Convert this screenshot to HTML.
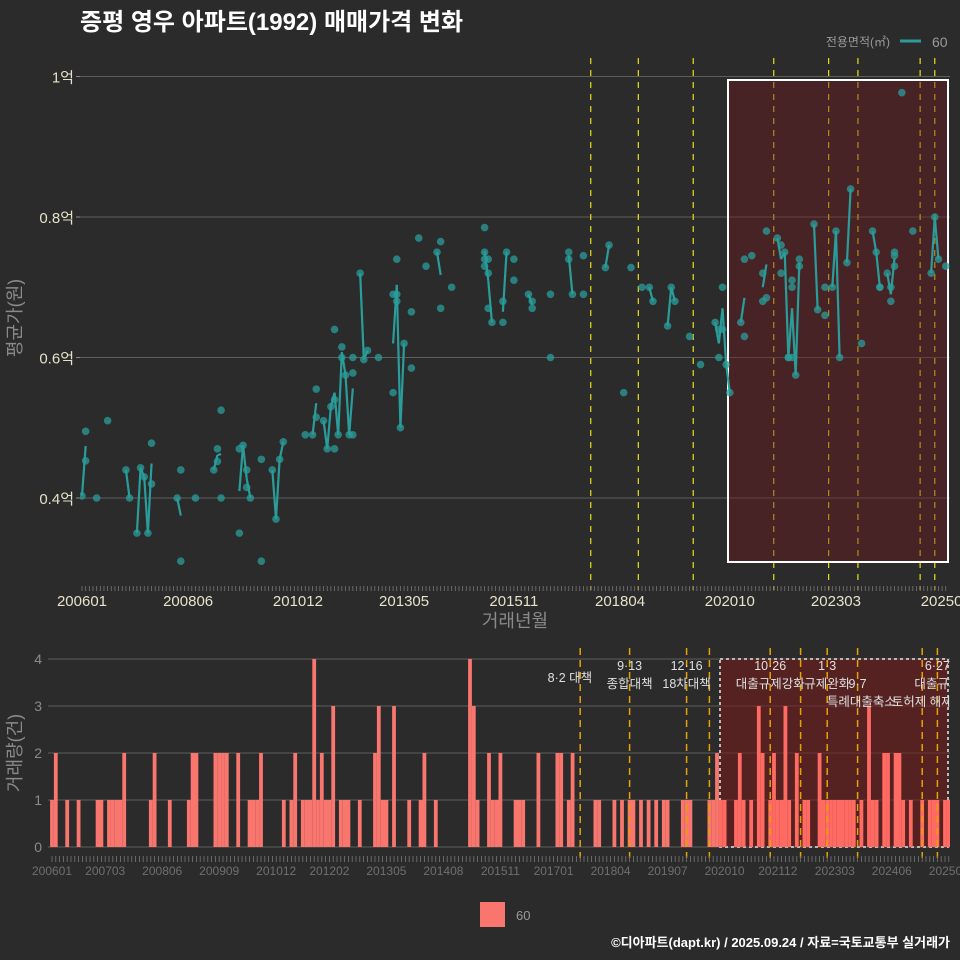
<!DOCTYPE html>
<html><head><meta charset="utf-8">
<style>
html,body{margin:0;padding:0;background:#2b2b2c;}
svg{display:block;font-family:"Liberation Sans","Noto Sans CJK KR",sans-serif;}
</style></head>
<body>
<svg id="chart" width="960" height="960" viewBox="0 0 960 960" xmlns="http://www.w3.org/2000/svg">
<defs>
<clipPath id="cpT"><rect x="80" y="55" width="870" height="535"/></clipPath>
<clipPath id="cpB"><rect x="48" y="640" width="902" height="215"/></clipPath>
</defs>
<rect width="960" height="960" fill="#2b2b2c"/>
<text x="80" y="30" fill="#ffffff" font-size="24" font-weight="bold">증평 영우 아파트(1992) 매매가격 변화</text>
<text x="890" y="46" fill="#9a9a9a" font-size="12" text-anchor="end">전용면적(㎡)</text>
<line x1="900" y1="41" x2="921" y2="41" stroke="#2a9d9a" stroke-width="3"/>
<text x="932" y="47" fill="#9a9a9a" font-size="14">60</text>
<g id="topPanel"></g>
<g id="botPanel"></g>
<rect x="480" y="902" width="25" height="25" fill="#f8766d"/>
<text x="516" y="920" fill="#9a9a9a" font-size="13">60</text>
<text x="950" y="947" fill="#ffffff" font-size="13" font-weight="bold" text-anchor="end">©디아파트(dapt.kr) / 2025.09.24 / 자료=국토교통부 실거래가</text>
</svg>
<script>
// month index: 0 = 2006-01
const tradeMonths = [0,1,1,4,7,12,13,15,16,17,18,19,19,26,27,27,31,36,37,37,38,38,43,43,44,45,45,46,49,49,52,53,54,55,61,63,64,64,66,67,68,69,69,69,70,71,71,72,73,74,74,74,76,77,78,81,85,85,86,86,86,87,88,90,90,92,94,97,98,98,101,110,110,110,110,111,111,111,112,115,115,116,118,118,122,123,123,128,128,133,133,134,137,137,143,144,148,150,153,155,156,160,161,162,166,169,173,174,174,175,175,176,177,180,181,181,183,186,186,187,187,190,191,191,192,193,193,194,194,194,195,196,196,200,201,203,203,205,206,207,209,210,213,216,217,218,218,220,221,221,222,222,224,222,227,232,233,234,236];
const tradePrices = [0.403,0.453,0.495,0.40,0.51,0.44,0.40,0.35,0.443,0.43,0.35,0.42,0.478,0.40,0.44,0.31,0.40,0.44,0.47,0.452,0.525,0.40,0.47,0.35,0.475,0.44,0.415,0.40,0.455,0.31,0.44,0.37,0.455,0.48,0.49,0.49,0.555,0.515,0.51,0.47,0.53,0.47,0.54,0.64,0.49,0.615,0.60,0.575,0.49,0.49,0.578,0.60,0.72,0.597,0.61,0.60,0.55,0.69,0.74,0.69,0.68,0.50,0.62,0.585,0.665,0.77,0.73,0.75,0.765,0.67,0.70,0.785,0.75,0.74,0.73,0.74,0.67,0.72,0.65,0.68,0.65,0.75,0.74,0.71,0.69,0.67,0.68,0.69,0.60,0.75,0.74,0.69,0.745,0.69,0.728,0.76,0.55,0.728,0.70,0.70,0.68,0.645,0.70,0.68,0.63,0.59,0.65,0.60,0.64,0.70,0.64,0.59,0.55,0.65,0.74,0.63,0.745,0.72,0.68,0.78,0.685,0.77,0.76,0.72,0.75,0.60,0.60,0.70,0.60,0.71,0.575,0.74,0.73,0.79,0.668,0.70,0.66,0.70,0.78,0.60,0.735,0.84,0.62,0.78,0.75,0.70,0.70,0.72,0.70,0.68,0.75,0.745,0.977,0.73,0.78,0.72,0.80,0.74,0.73];
const xTickLabelsTop = ["200601","200806","201012","201305","201511","201804","202010","202303","202509"];
const xTickMonthsTop = [0,29,59,88,118,147,177,206,236];
const yTickValues = [0.4,0.6,0.8,1.0];
const yTickLabels = ["0.4억","0.6억","0.8억","1억"];
const eventMonthsTop = [139,152,167,189,204,212,229,233];
const eventMonthsBot = [139,152,167,173,189,197,204,212,229,233];
const volMonths = [0,1,4,7,12,13,15,16,17,18,19,26,27,31,36,37,38,43,44,45,46,49,52,53,54,55,61,63,64,66,67,68,69,70,71,72,73,74,76,77,78,81,85,86,87,88,90,94,97,98,101,110,111,112,115,116,117,118,122,123,124,128,133,134,136,137,143,144,148,150,152,153,155,157,159,161,162,166,167,168,173,174,175,176,177,180,181,182,184,186,187,189,190,191,192,193,194,196,198,199,202,203,204,205,206,207,208,209,210,211,213,215,216,217,219,220,222,223,224,226,229,231,232,233,235,236];
const volCounts = [1,2,1,1,1,1,1,1,1,1,2,1,2,1,1,2,2,2,2,2,2,2,1,1,1,2,1,1,2,1,1,1,4,1,2,1,1,3,1,1,1,1,2,3,1,1,3,1,1,2,1,4,3,1,2,1,1,2,1,1,1,2,2,2,1,2,1,1,1,1,1,1,1,1,1,1,1,1,1,1,1,1,2,1,1,1,2,1,1,3,2,1,2,1,1,3,1,2,1,1,2,1,1,1,1,1,1,1,1,1,1,3,1,1,2,2,2,2,1,1,1,1,1,1,1,1];
const volTickLabels = ["200601","200703","200806","200909","201012","201202","201305","201408","201511","201701","201804","201907","202010","202112","202303","202406","202509"];
const volTickMonths = [0,14,29,44,59,73,88,103,118,132,147,162,177,191,206,221,236];
const volYTicks = [0,1,2,3,4];
const annoMonths = [139,152,152,167,167,189,189,204,204,212,213,229,233,233];
const annoRows = [1,0,1,0,1,0,1,0,1,1,2,2,0,1];
const annoTexts = ["8·2 대책","9·13","종합대책","12·16","18차대책","10·26","대출규제강화","1·3","규제완화","9·7","특례대출축소","토허제 해제","6·27","대출규제"];

const NS="http://www.w3.org/2000/svg";
function mk(parent,tag,attrs,text){const e=document.createElementNS(NS,tag);for(const k in attrs)e.setAttribute(k,attrs[k]);if(text!=null)e.textContent=text;parent.appendChild(e);return e;}
const topG=document.getElementById('topPanel'), botG=document.getElementById('botPanel');

const xT=m=>82+m*3.66;
const yT=v=>498-(v-0.4)*702.5;
const TL=80,TR=950;
yTickValues.forEach((v,i)=>{
  const g=mk(topG,'line',{x1:TL,x2:TR,y1:yT(v),y2:yT(v),stroke:'#5e5e5e','stroke-width':1});
  
  
  const t=mk(topG,'text',{x:TL-6,y:yT(v)+6,fill:'#e6e2c8','font-size':15,'text-anchor':'end'},yTickLabels[i]);
  
  
  mk(topG,'line',{x1:TL-4,x2:TL,y1:yT(v),y2:yT(v),stroke:'#888'});
});
eventMonthsTop.forEach(m=>{
  const l=mk(topG,'line',{x1:xT(m),x2:xT(m),y1:58,y2:590,stroke:'#e8e01a','stroke-width':1.2,'stroke-dasharray':'6,6'});
  
  
});
const hb=mk(topG,'rect',{x:728,y:80,width:220,height:482,fill:'rgba(110,25,30,0.42)',stroke:'#ffffff','stroke-width':2});


const avg={};tradeMonths.forEach((m,i)=>{(avg[m]=avg[m]||[]).push(tradePrices[i]);});
const am=Object.keys(avg).map(Number).sort((a,b)=>a-b);
const gl=mk(topG,'g',{'clip-path':'url(#cpT)'});
am.forEach((m,i)=>{
  if(i>0&&am[i-1]===m-1){
    const a=avg[m-1].reduce((s,v)=>s+v)/avg[m-1].length, b=avg[m].reduce((s,v)=>s+v)/avg[m].length;
    const l=mk(gl,'line',{x1:xT(m-1),y1:yT(a),x2:xT(m),y2:yT(b),stroke:'#2a9d9a','stroke-width':2.2});
    
    
  }
});
tradeMonths.forEach((m,i)=>{
  const c=mk(gl,'circle',{cx:xT(m),cy:yT(tradePrices[i]),r:3.8,fill:'#2a9d9a','fill-opacity':0.75});
  
  
});
for(let m=0;m<=236;m++){mk(topG,'line',{x1:xT(m),x2:xT(m),y1:586,y2:591,stroke:'#777','stroke-width':0.8});}
xTickMonthsTop.forEach((m,i)=>{
  const t=mk(topG,'text',{x:xT(m),y:606,fill:'#e6e2c8','font-size':15,'text-anchor':'middle'},xTickLabelsTop[i]);
  
  
});
let t1=mk(topG,'text',{x:515,y:627,fill:'#8a8a8a','font-size':18,'text-anchor':'middle'},'거래년월');


let t2=mk(topG,'text',{x:0,y:0,fill:'#8a8a8a','font-size':18,'text-anchor':'middle',transform:'translate(21,318) rotate(-90)'},'평균가(원)');



const xB=m=>52+m*3.8;
const yB=v=>847-v*47;
volYTicks.forEach(v=>{
  const g=mk(botG,'line',{x1:48,x2:950,y1:yB(v),y2:yB(v),stroke:'#5e5e5e'});
  
  
  const t=mk(botG,'text',{x:42,y:yB(v)+5,fill:'#8a8a8a','font-size':14,'text-anchor':'end'},String(v));
  
  
});
const bb=mk(botG,'rect',{x:720,y:659,width:228,height:188,fill:'rgba(120,25,25,0.55)',stroke:'#cccccc','stroke-width':1.8,'stroke-dasharray':'3,3'});


const gb=mk(botG,'g',{'clip-path':'url(#cpB)'});
volMonths.forEach((m,i)=>{
  const h=volCounts[i]*47;
  const r=mk(gb,'rect',{x:xB(m)-1.9,y:yB(volCounts[i]),width:3.8,height:h,fill:m>=176?'#ff6a62':'#f8766d'});
  
  
});
eventMonthsBot.forEach(m=>{
  const l=mk(botG,'line',{x1:xB(m),x2:xB(m),y1:648,y2:858,stroke:'#e6a300','stroke-width':1.5,'stroke-dasharray':'7,5'});
  
  
});
const ga=mk(botG,'g',{'clip-path':'url(#cpB)'});
annoMonths.forEach((m,i)=>{
  let x=xB(m), anchor='middle', y=670+annoRows[i]*18;
  if(i===0){anchor='end';x=x+12;y=682;}
  const t=mk(ga,'text',{x:x,y:y,fill:'#e0e0e0','font-size':12.5,'text-anchor':anchor},annoTexts[i]);
  
  
});
for(let m=0;m<=236;m++){mk(botG,'line',{x1:xB(m),x2:xB(m),y1:856,y2:862,stroke:'#777','stroke-width':0.8});}
volTickMonths.forEach((m,i)=>{
  const t=mk(botG,'text',{x:xB(m),y:875,fill:'#6f6f6f','font-size':12,'text-anchor':'middle'},volTickLabels[i]);
  
  
});
let t3=mk(botG,'text',{x:0,y:0,fill:'#8a8a8a','font-size':18,'text-anchor':'middle',transform:'translate(21,753) rotate(-90)'},'거래량(건)');


</script>
</body></html>
